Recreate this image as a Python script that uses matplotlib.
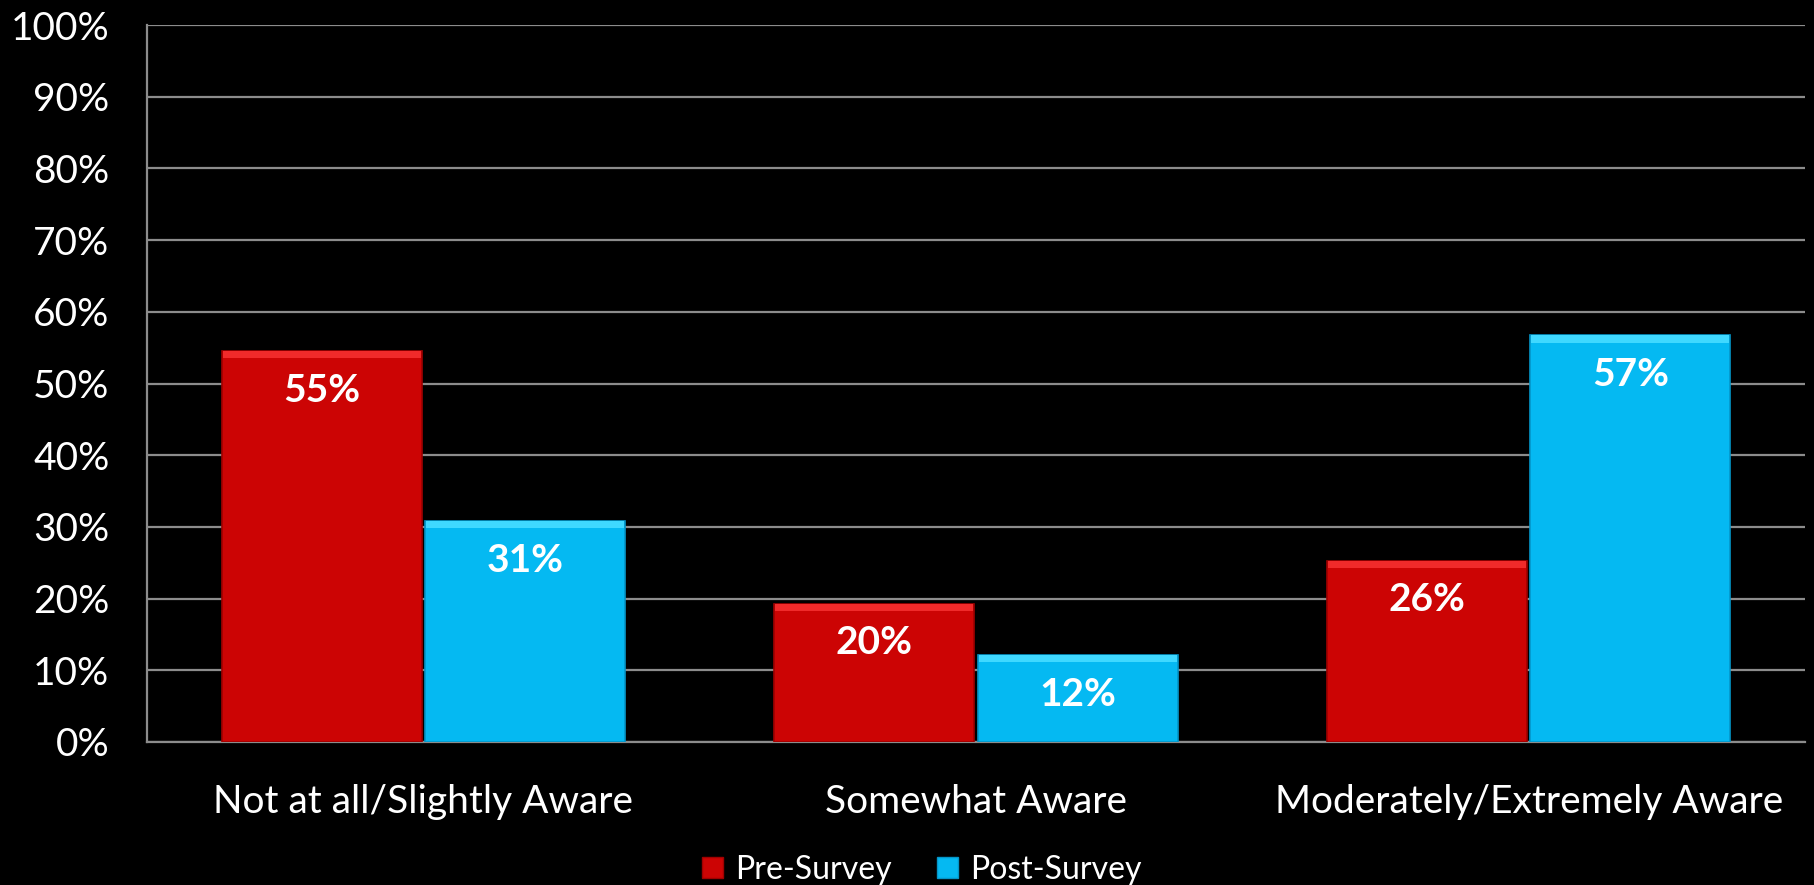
import matplotlib
matplotlib.use("Agg")
import matplotlib.pyplot as plt
import numpy as np
from matplotlib.patches import Patch

categories = ["Not at all/Slightly Aware", "Somewhat Aware", "Moderately/Extremely Aware"]
series_names = ["Pre-Survey", "Post-Survey"]
pre_values = [54.5, 19.3, 25.3]
post_values = [30.8, 12.1, 56.7]
pre_labels = ["55%", "20%", "26%"]
post_labels = ["31%", "12%", "57%"]
yticks = [0, 10, 20, 30, 40, 50, 60, 70, 80, 90, 100]

plt.rcParams['font.family'] = ['Lato', 'DejaVu Sans']

W, H = 1814, 885
fig = plt.figure(figsize=(W / 100, H / 100), dpi=100, facecolor='black')
ax = fig.add_axes([147 / W, 1 - 742 / H, (1805 - 147) / W, (742 - 25) / H])
ax.set_facecolor('black')

red = '#CC0404'
blue = '#05B9F2'
red_top = '#F02A2A'
blue_top = '#3FD8FF'
x = np.arange(len(categories))
bw = 0.362
gap = 0.003
bevel = 1.0
b1 = ax.bar(x - bw / 2 - gap, pre_values, bw, color=red, edgecolor='#A00000', linewidth=1.2, zorder=3)
b2 = ax.bar(x + bw / 2 + gap, post_values, bw, color=blue, edgecolor='#0495C8', linewidth=1.2, zorder=3)
ax.bar(x - bw / 2 - gap, bevel, bw * 0.99, bottom=np.array(pre_values) - bevel, color=red_top, linewidth=0, zorder=3.5)
ax.bar(x + bw / 2 + gap, bevel, bw * 0.99, bottom=np.array(post_values) - bevel, color=blue_top, linewidth=0, zorder=3.5)

for bars, labs in ((b1, pre_labels), (b2, post_labels)):
    for rect, lab in zip(bars, labs):
        ax.annotate(lab, (rect.get_x() + rect.get_width() / 2, rect.get_height()),
                    xytext=(0, -39), textcoords='offset pixels', ha='center', va='center',
                    color='white', fontsize=28, fontweight='bold', zorder=4)

ax.set_xlim(-0.5, len(categories) - 0.5)
ax.set_ylim(0, 100)
ax.set_yticks(yticks)
ax.set_yticklabels([f"{v}%" for v in yticks])
ax.set_xticks(x)
ax.set_xticklabels(categories)
ax.tick_params(axis='y', colors='white', labelsize=28, length=0, pad=27)
ax.tick_params(axis='x', colors='white', labelsize=28, length=0, pad=30)
ax.grid(axis='y', color='#8C8C8C', linewidth=1.6, zorder=0)
ax.set_axisbelow(True)
for s in ['top', 'right']:
    ax.spines[s].set_visible(False)
for s in ['left', 'bottom']:
    ax.spines[s].set_color('#8C8C8C')
    ax.spines[s].set_linewidth(1.6)

handles = [Patch(facecolor=red, edgecolor='#A00000'), Patch(facecolor=blue, edgecolor='#0495C8')]
leg = fig.legend(handles, series_names, loc='center', bbox_to_anchor=(922 / W, 1 - 870 / H),
                 ncol=2, frameon=False, fontsize=23, labelcolor='white',
                 handlelength=0.65, handleheight=0.65, handletextpad=0.4, columnspacing=1.4)

fig.savefig('out.png', dpi=100, facecolor='black')
